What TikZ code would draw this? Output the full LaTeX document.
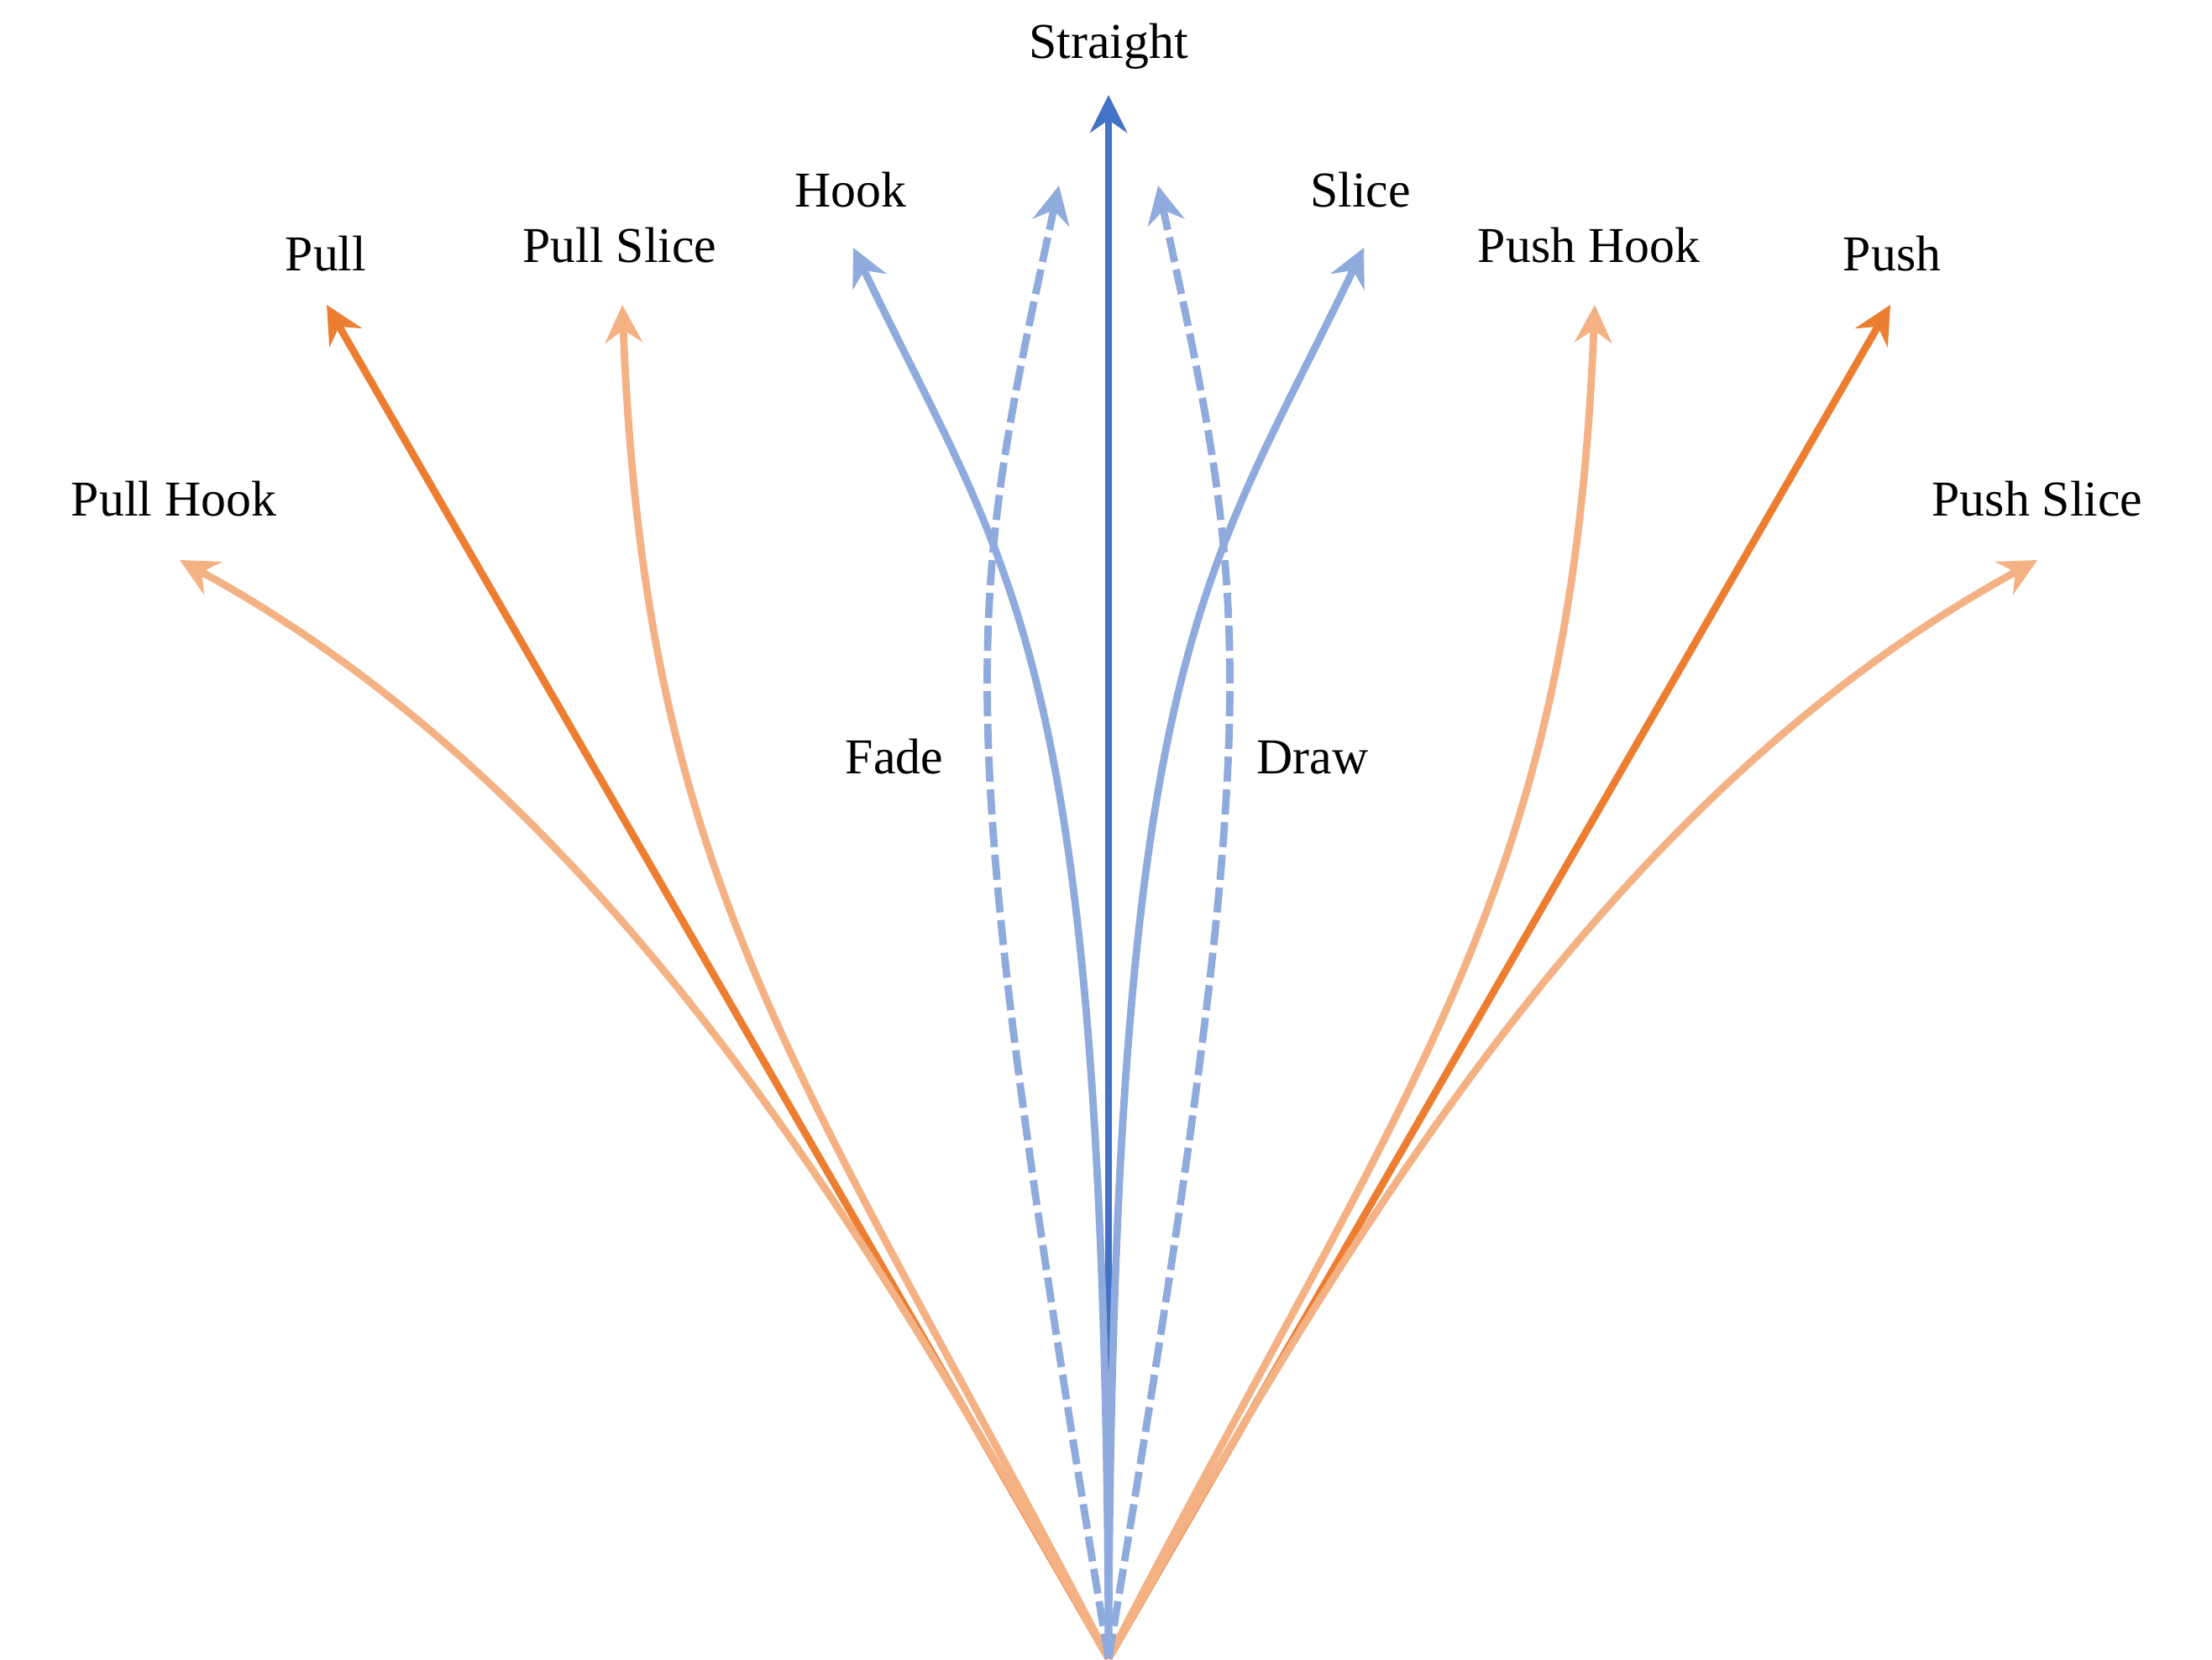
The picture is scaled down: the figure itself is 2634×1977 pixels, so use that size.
\documentclass[tikz,border=0pt]{standalone}
\usepackage{fontspec}
\setmainfont{Liberation Serif}
\usetikzlibrary{arrows.meta}
\definecolor{blueD}{HTML}{4472C4}
\definecolor{blueL}{HTML}{8FAADC}
\definecolor{orD}{HTML}{ED7D31}
\definecolor{orL}{HTML}{F4B183}
\begin{document}
\begin{tikzpicture}[x=0.01cm,y=-0.01cm,
  shot/.style={line width=2.5pt, -{Stealth[length=12.8pt,width=12.6pt,inset=4.3pt]}},
  dashshot/.style={shot, dash pattern=on 8.5pt off 2.6pt},
  lbl/.style={font=\fontsize{17}{20}\selectfont, anchor=base, inner sep=0pt}]
\fill[white] (0,0) rectangle (2634,1977);
\useasboundingbox (0,0) rectangle (2634,1977);
% origin and tips
\coordinate (O) at (1320,1975);
\coordinate (tStraight) at (1320,113);
\coordinate (tFade) at (1261,221);
\coordinate (tDraw) at (1379,221);
\coordinate (tHook) at (1016,295);
\coordinate (tSlice) at (1624,295);
\coordinate (tPull) at (389,363);
\coordinate (tPullSlice) at (741,363);
\coordinate (tPushHook) at (1899,363);
\coordinate (tPush) at (2251,363);
\coordinate (tPullHook) at (214,667);
\coordinate (tPushSlice) at (2426,667);
% labels
\node[lbl] (lStraight) at (1320,70) {Straight};
\node[lbl] (lHook) at (1013,247) {Hook};
\node[lbl] (lSlice) at (1620,247) {Slice};
\node[lbl] (lPull) at (388,323) {Pull};
\node[lbl] (lPullSlice) at (738,313) {Pull Slice};
\node[lbl] (lPushHook) at (1892,313) {Push Hook};
\node[lbl] (lPush) at (2253,323) {Push};
\node[lbl] (lPullHook) at (207,615) {Pull Hook};
\node[lbl] (lPushSlice) at (2426,615) {Push Slice};
\node[lbl] (lFade) at (1065,922) {Fade};
\node[lbl] (lDraw) at (1563,922) {Draw};
% orange shots
\draw[shot, orD] (O) -- (tPull);
\draw[shot, orD] (O) -- (tPush);
\draw[shot, orL] (O) .. controls (1037,1476) and (732,950) .. (tPullHook);
\draw[shot, orL] (O) .. controls (1603,1476) and (1908,950) .. (tPushSlice);
\draw[shot, orL] (O) .. controls (956,1272) and (769,1065) .. (tPullSlice);
\draw[shot, orL] (O) .. controls (1684,1272) and (1871,1065) .. (tPushHook);
% blue shots
\draw[shot, blueD] (O) -- (tStraight);
\draw[shot, blueL] (O) .. controls (1316,772) and (1208,696) .. (tHook);
\draw[shot, blueL] (O) .. controls (1324,772) and (1432,696) .. (tSlice);
\draw[dashshot, blueL] (O) .. controls (1129,824) and (1149,738) .. (tFade);
\draw[dashshot, blueL] (O) .. controls (1511,824) and (1491,738) .. (tDraw);
\end{tikzpicture}
\end{document}
